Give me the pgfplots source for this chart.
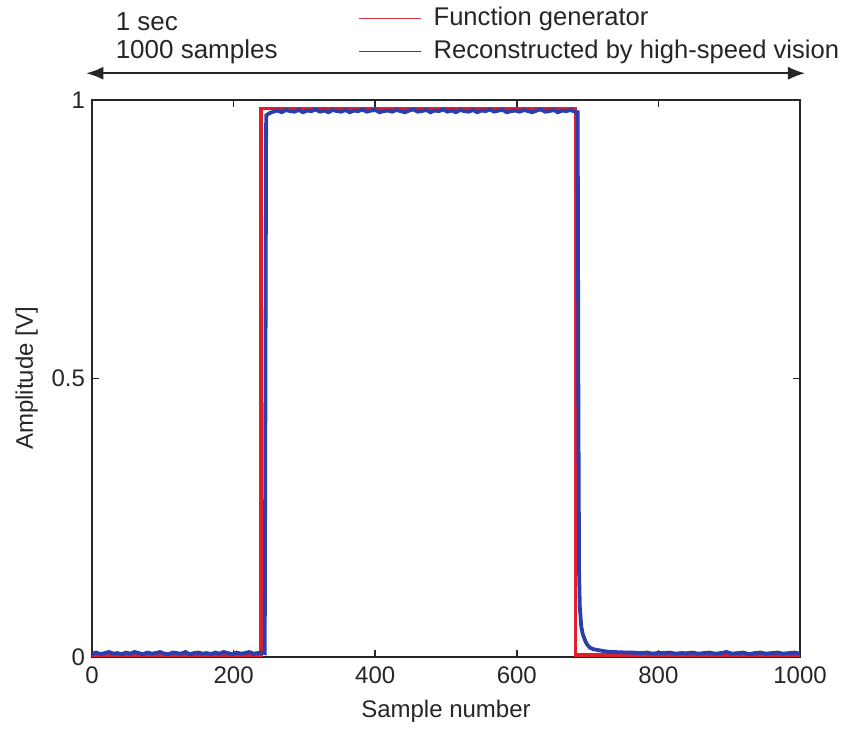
\documentclass[border=0pt]{standalone}
\usepackage{pgfplots}
\pgfplotsset{compat=1.18}
\usepackage{fontspec}
\setmainfont{Liberation Sans}
\usetikzlibrary{arrows.meta}
\definecolor{fgred}{RGB}{222,32,42}
\definecolor{hsblue}{RGB}{42,62,172}
\definecolor{legred}{RGB}{205,55,65}
\definecolor{legblue}{RGB}{50,60,150}
\begin{document}
\begin{tikzpicture}
\begin{axis}[
  scale only axis,
  width=354pt, height=278.5pt,
  xmin=0, xmax=1000, ymin=0, ymax=1,
  xtick={0,200,400,600,800,1000},
  xticklabels={0,200,400,600,800,1000},
  ytick={0,0.5,1},
  yticklabels={0,0.5,1},
  tick align=inside,
  xtick pos=both, ytick pos=both,
  major tick length=3.5pt,
  axis line style={line width=0.8pt, black!85},
  every tick/.style={line width=0.8pt, black!85},
  /pgf/number format/assume math mode=true,
  tick label style={font=\fontsize{12}{14}\selectfont, black!85},
  xticklabel style={yshift=-1.5pt},
  label style={font=\fontsize{12}{14}\selectfont, black!85},
  xlabel={Sample number},
  ylabel={Amplitude [V]},
  xlabel style={yshift=-1pt},
  clip=false,
  legend style={at={(rel axis cs:0.376,1.117)}, anchor=west, draw=none, fill=none,
    font=\fontsize{12.8}{15}\selectfont, text=black!85, row sep=4.5pt, inner sep=0pt,
    nodes={inner xsep=0pt, inner ysep=0pt, text height=9.5pt, text depth=2.5pt}},
  legend cell align=left,
  legend image code/.code={\draw[#1, line width=0.6pt] (0pt,0pt) -- (31pt,0pt); \path (37pt,0pt);},
]
\addplot[fgred, line width=1.8pt, forget plot] coordinates {
(0,0.004) (239,0.004) (239,0.985) (683,0.985) (683,0.004) (1000,0.004)
};
\addplot[hsblue, line width=1.9pt, forget plot] coordinates {
(0,0.006) (6,0.008) (12,0.005) (18,0.007) (24,0.009) (30,0.006) (36,0.007) (42,0.005)
(48,0.008) (54,0.006) (60,0.009) (66,0.007) (72,0.005) (78,0.008) (84,0.006) (90,0.007)
(96,0.009) (102,0.006) (108,0.005) (114,0.008) (120,0.007) (126,0.006) (132,0.009) (138,0.005)
(144,0.007) (150,0.008) (156,0.006) (162,0.007) (168,0.005) (174,0.008) (180,0.006) (186,0.009)
(192,0.007) (198,0.005) (204,0.008) (210,0.006) (216,0.007) (222,0.009) (228,0.006) (234,0.007)
(240,0.008) (244,0.007) (245,0.5) (246,0.972) (250,0.976) (256,0.979) (262,0.981) (268,0.978)
(274,0.982) (280,0.980) (286,0.979) (292,0.982) (298,0.978) (304,0.981) (310,0.980) (316,0.983)
(322,0.979) (328,0.981) (334,0.978) (340,0.982) (346,0.980) (352,0.979) (358,0.982) (364,0.978)
(370,0.981) (376,0.980) (382,0.983) (388,0.979) (394,0.981) (400,0.982) (406,0.978) (412,0.980)
(418,0.981) (424,0.979) (430,0.982) (436,0.980) (442,0.978) (448,0.981) (454,0.983) (460,0.979)
(466,0.980) (472,0.982) (478,0.978) (484,0.981) (490,0.980) (496,0.983) (502,0.979) (508,0.981)
(514,0.978) (520,0.982) (526,0.980) (532,0.979) (538,0.982) (544,0.978) (550,0.981) (556,0.980)
(562,0.983) (568,0.979) (574,0.981) (580,0.982) (586,0.978) (592,0.980) (598,0.981) (604,0.979)
(610,0.982) (616,0.980) (622,0.978) (628,0.981) (634,0.983) (640,0.979) (646,0.980) (652,0.982)
(658,0.978) (664,0.981) (670,0.980) (676,0.982) (682,0.979) (686,0.978) (687,0.45) (688,0.15)
(689,0.09) (691,0.055) (693,0.042) (696,0.031) (699,0.023) (703,0.017) (708,0.014) (714,0.0126)
(721,0.011) (728,0.0096) (736,0.009) (745,0.0085) (755,0.008) (766,0.0078) (776,0.007) (784,0.008)
(792,0.006) (800,0.0075) (808,0.007) (816,0.008) (824,0.006) (832,0.007) (840,0.0068) (848,0.008)
(856,0.006) (864,0.007) (872,0.008) (880,0.006) (888,0.007) (896,0.009) (904,0.006) (912,0.007)
(920,0.008) (928,0.005) (936,0.007) (944,0.008) (952,0.006) (960,0.007) (968,0.008) (976,0.006)
(984,0.007) (992,0.008) (1000,0.006)
};
\addlegendimage{legred}
\addlegendentry{Function generator}
\addlegendimage{legblue}
\addlegendentry{Reconstructed by high-speed vision}
\draw[{Latex[length=8.5pt,width=6.5pt]}-{Latex[length=8.5pt,width=6.5pt]}, line width=0.75pt, black!85]
  (rel axis cs:-0.008,1.048) -- (rel axis cs:1.007,1.048);
\node[anchor=base west, inner sep=0pt, font=\fontsize{13}{15}\selectfont, text=black!85] at (rel axis cs:0.033,1.124) {1 sec};
\node[anchor=base west, inner sep=0pt, font=\fontsize{13}{15}\selectfont, text=black!85] at (rel axis cs:0.033,1.0736) {1000 samples};
\end{axis}
\path (current axis.south west) ++(-46pt,-37pt) coordinate (BL);
\path (current axis.north east) ++(22.5pt,50pt) coordinate (TR);
\useasboundingbox (BL) rectangle (TR);
\end{tikzpicture}
\end{document}
